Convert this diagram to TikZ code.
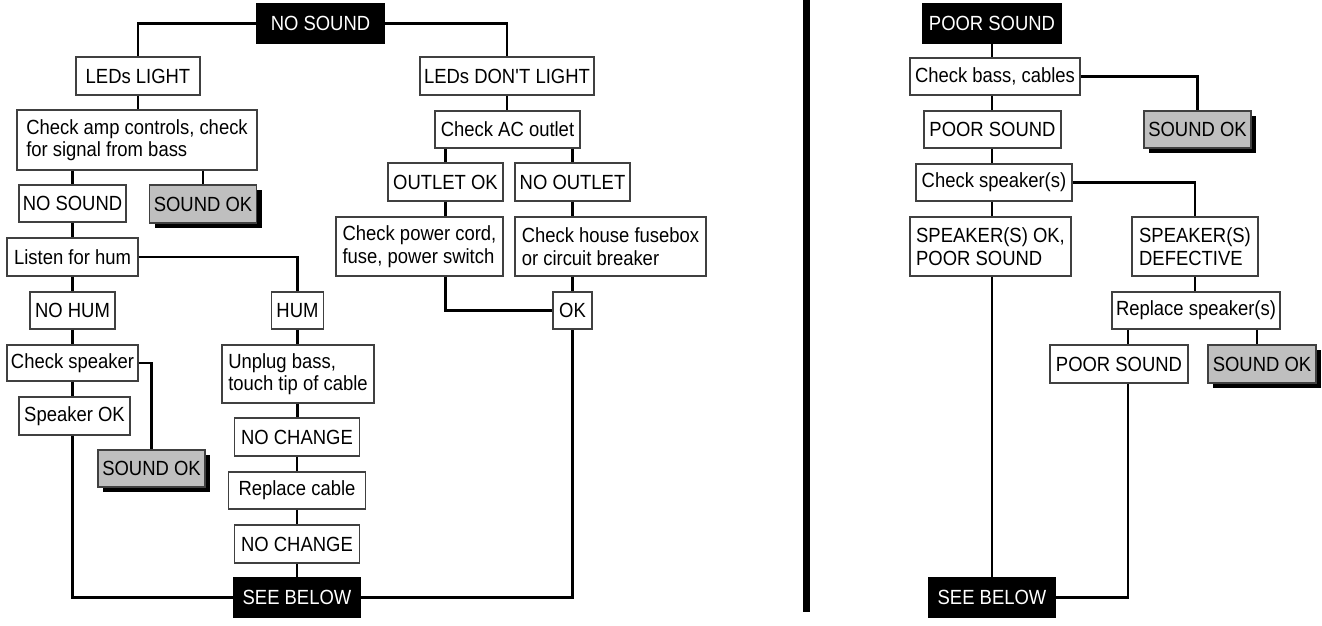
\documentclass[tikz,border=0pt]{standalone}
\usepackage{fontspec}
\setmainfont{Liberation Sans}[FakeStretch=0.9]
\usetikzlibrary{shadows}
\begin{document}
\begin{tikzpicture}[x=1pt,y=-1pt,
  box/.style={draw=black!75, line width=1.2pt, fill=white, inner sep=0pt, align=left,
    font=\fontsize{20.5}{22.5}\selectfont},
  blackbox/.style={box, fill=black, draw=black, text=white},
  graybox/.style={box, fill=black!25, draw=black!75,
    drop shadow={shadow xshift=5pt, shadow yshift=-5pt, fill=black, opacity=1}},
  conn/.style={draw=black, line width=2.8pt}]
\useasboundingbox (0,0) rectangle (1322,625);
% ---------------- left panel ----------------
\node[blackbox, minimum width=127pt, minimum height=39pt] (ns1) at (320.5,23.5) {NO SOUND};
\node[box, minimum width=124pt, minimum height=38pt] (ledl) at (138,76) {LEDs LIGHT};
\node[box, minimum width=240pt, minimum height=60pt] (amp) at (137,140) {Check amp controls, check\\for signal from bass};
\node[box, minimum width=107pt, minimum height=37pt] (ns2) at (72.5,203.5) {NO SOUND};
\node[graybox, minimum width=107pt, minimum height=38pt] (ok1) at (203,204) {SOUND OK};
\node[box, minimum width=131pt, minimum height=38pt] (listen) at (72.5,257) {Listen for hum};
\node[box, minimum width=85pt, minimum height=37pt] (nohum) at (72.5,310.5) {NO HUM};
\node[box, minimum width=52pt, minimum height=37pt] (hum) at (297.5,310.5) {HUM};
\node[box, minimum width=131pt, minimum height=36pt] (chsp) at (72.5,363) {Check speaker};
\node[box, minimum width=111pt, minimum height=38pt] (spok) at (74.5,416) {Speaker OK};
\node[graybox, minimum width=107pt, minimum height=37pt] (ok2) at (151.5,468.5) {SOUND OK};
\node[box, minimum width=152pt, minimum height=58pt] (unplug) at (298,374) {Unplug bass,\\touch tip of cable};
\node[box, minimum width=125pt, minimum height=38pt] (nc1) at (297,437) {NO CHANGE};
\node[box, minimum width=137pt, minimum height=37pt] (repl) at (297,490.5) {Replace cable};
\node[box, minimum width=125pt, minimum height=38pt] (nc2) at (297,544) {NO CHANGE};
\node[blackbox, minimum width=127pt, minimum height=39pt] (sb1) at (297,597.5) {SEE BELOW};
\node[box, minimum width=174pt, minimum height=38pt] (ledd) at (507,76) {LEDs DON\textquotesingle T LIGHT};
\node[box, minimum width=145pt, minimum height=37pt] (ac) at (507.5,129.5) {Check AC outlet};
\node[box, minimum width=115pt, minimum height=38pt] (outok) at (445.5,182) {OUTLET OK};
\node[box, minimum width=115pt, minimum height=38pt] (noout) at (572.5,182) {NO OUTLET};
\node[box, minimum width=167pt, minimum height=59pt] (cord) at (419.5,246.5) {Check power cord,\\fuse, power switch};
\node[box, minimum width=191pt, minimum height=59pt] (fuse) at (610.5,246.5) {Check house fusebox\\or circuit breaker};
\node[box, minimum width=39pt, minimum height=37pt] (okk) at (572.5,310.5) {OK};
% connectors
\draw[conn] (ns1.west) -| (ledl.north);
\draw[conn] (ns1.east) -| (ledd.north);
\draw[conn] (ledl.south) -- (ledl.south |- amp.north);
\draw[conn] (ns2.north |- amp.south) -- (ns2.north);
\draw[conn] (ok1.north |- amp.south) -- (ok1.north);
\draw[conn] (ns2.south) -- (listen.north);
\draw[conn] (listen.east) -| (hum.north);
\draw[conn] (listen.south) -- (nohum.north);
\draw[conn] (nohum.south) -- (chsp.north);
\draw[conn] (chsp.east) -| (ok2.north);
\draw[conn] (chsp.south) -- (chsp.south |- spok.north);
\draw[conn] (chsp.south |- spok.south) |- (sb1.west);
\draw[conn] (hum.south) -- (hum.south |- unplug.north);
\draw[conn] (hum.south |- unplug.south) -- (hum.south |- nc1.north);
\draw[conn] (nc1.south) -- (repl.north);
\draw[conn] (repl.south) -- (nc2.north);
\draw[conn] (nc2.south) -- (sb1.north);
\draw[conn] (sb1.east) -| (okk.south);
\draw[conn] (ledd.south) -- (ledd.south |- ac.north);
\draw[conn] (outok.north |- ac.south) -- (outok.north);
\draw[conn] (noout.north |- ac.south) -- (noout.north);
\draw[conn] (outok.south) -- (outok.south |- cord.north);
\draw[conn] (noout.south) -- (noout.south |- fuse.north);
\draw[conn] (okk.north |- fuse.south) -- (okk.north);
\draw[conn] (outok.south |- cord.south) |- (okk.west);
% divider
\draw[line width=7pt] (806,0) -- (806,612);
% ---------------- right panel ----------------
\node[blackbox, minimum width=138pt, minimum height=39pt] (ps1) at (992,23.5) {POOR SOUND};
\node[box, minimum width=170pt, minimum height=37pt] (cbc) at (995,76.5) {Check bass, cables};
\node[graybox, minimum width=107pt, minimum height=37pt] (ok3) at (1197.5,129.5) {SOUND OK};
\node[box, minimum width=137pt, minimum height=37pt] (ps2) at (992.5,129.5) {POOR SOUND};
\node[box, minimum width=156pt, minimum height=37pt] (cks) at (994,182.5) {Check speaker(s)};
\node[box, minimum width=161pt, minimum height=59pt] (spkok) at (990.5,246.5) {SPEAKER(S) OK,\\POOR SOUND};
\node[box, minimum width=126pt, minimum height=59pt] (spkdef) at (1195,246.5) {SPEAKER(S)\\DEFECTIVE};
\node[box, minimum width=168pt, minimum height=37pt] (rsp) at (1196,310.5) {Replace speaker(s)};
\node[box, minimum width=138pt, minimum height=38pt] (ps3) at (1119,364) {POOR SOUND};
\node[graybox, minimum width=108pt, minimum height=38pt] (ok4) at (1262,364) {SOUND OK};
\node[blackbox, minimum width=127pt, minimum height=39pt] (sb2) at (992,597.5) {SEE BELOW};
\coordinate (xa) at (1128,0);
\coordinate (xb) at (1257,0);
\draw[conn] (ps1.south) -- (ps1.south |- cbc.north);
\draw[conn] (cbc.east) -| (ok3.north);
\draw[conn] (ps1.south |- cbc.south) -- (ps1.south |- ps2.north);
\draw[conn] (ps1.south |- ps2.south) -- (ps1.south |- cks.north);
\draw[conn] (cks.east) -| (spkdef.north);
\draw[conn] (ps1.south |- cks.south) -- (ps1.south |- spkok.north);
\draw[conn] (ps1.south |- spkok.south) -- (sb2.north);
\draw[conn] (spkdef.south) -- (spkdef.south |- rsp.north);
\draw[conn] (xa |- rsp.south) -- (xa |- ps3.north);
\draw[conn] (xb |- rsp.south) -- (xb |- ok4.north);
\draw[conn] (xa |- ps3.south) |- (sb2.east);
\end{tikzpicture}
\end{document}
